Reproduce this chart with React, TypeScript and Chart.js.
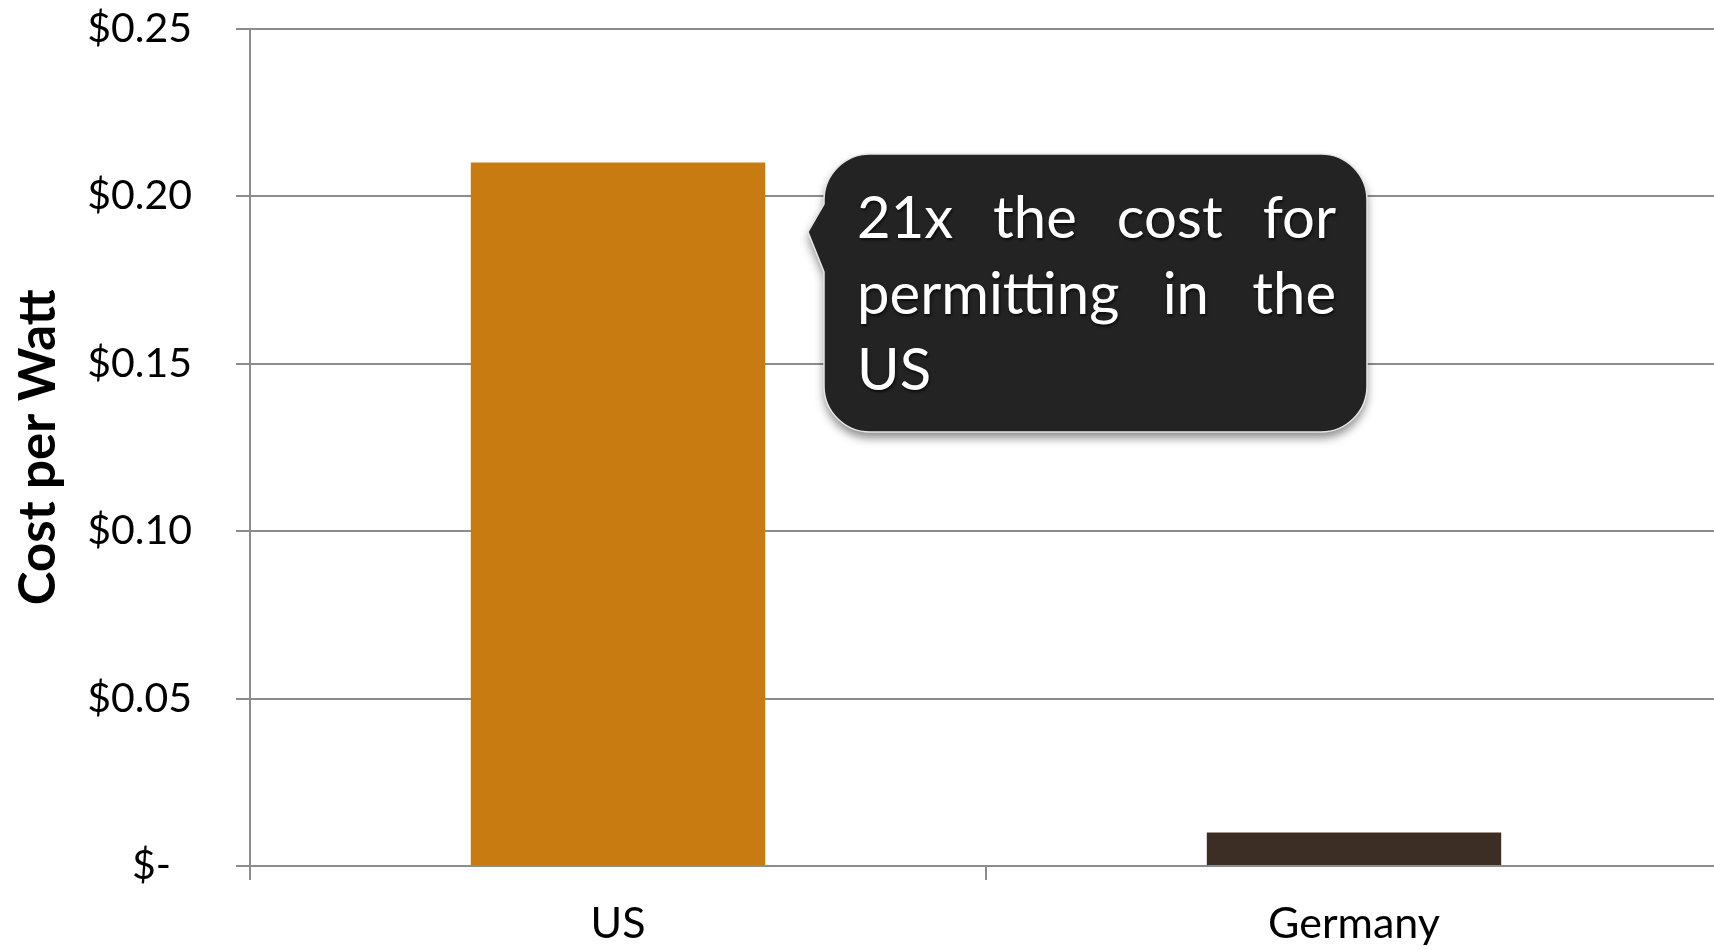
import React, { useEffect, useRef } from "react";
import { Chart, registerables } from "chart.js";

Chart.register(...registerables);

const categories = ["US", "Germany"];
const costPerWatt = [0.21, 0.01];
const barColors = ["#C77B11", "#3D2E25"];
const yTicks = [0, 0.05, 0.1, 0.15, 0.2, 0.25];
const yAxisTitle = "Cost per Watt";
const calloutLines = [
  ["21x", "the", "cost", "for"],
  ["permitting", "in", "the"],
  ["US"],
];

const FONT = "Lato, 'Open Sans', sans-serif";
const SHIFT = 40;

const calloutPlugin = {
  id: "callout",
  afterDraw(chart: any) {
    const ctx = chart.ctx as CanvasRenderingContext2D;
    const L = 824, T = 154 + SHIFT, R = 1367, B = 432 + SHIFT, r = 46;
    const tipX = 808, tipY = 232 + SHIFT, joinTop = T + r + 4, joinBot = 272 + SHIFT;
    ctx.save();
    ctx.beginPath();
    ctx.moveTo(L + r, T);
    ctx.lineTo(R - r, T);
    ctx.arcTo(R, T, R, T + r, r);
    ctx.lineTo(R, B - r);
    ctx.arcTo(R, B, R - r, B, r);
    ctx.lineTo(L + r, B);
    ctx.arcTo(L, B, L, B - r, r);
    ctx.lineTo(L, joinBot);
    ctx.lineTo(tipX, tipY);
    ctx.lineTo(L, joinTop);
    ctx.arcTo(L, T, L + r, T, r);
    ctx.closePath();
    ctx.shadowColor = "rgba(0,0,0,0.45)";
    ctx.shadowBlur = 10;
    ctx.shadowOffsetY = 6;
    ctx.fillStyle = "#232323";
    ctx.fill();
    ctx.shadowColor = "transparent";
    ctx.lineWidth = 1.5;
    ctx.strokeStyle = "#e6e6e6";
    ctx.stroke();

    ctx.font = `58px ${FONT}`;
    ctx.fillStyle = "#ffffff";
    ctx.textBaseline = "alphabetic";
    ctx.textAlign = "left";
    ctx.shadowColor = "rgba(0,0,0,0.7)";
    ctx.shadowBlur = 3;
    ctx.shadowOffsetX = 1;
    ctx.shadowOffsetY = 2;
    const textL = 857, textR = 1336;
    const baselines = [238 + SHIFT, 314 + SHIFT, 390 + SHIFT];
    calloutLines.forEach((words, i) => {
      const y = baselines[i];
      const isLast = i === calloutLines.length - 1;
      if (isLast || words.length === 1) {
        ctx.fillText(words.join(" "), textL, y);
        return;
      }
      const widths = words.map((w) => ctx.measureText(w).width);
      const total = widths.reduce((a, b) => a + b, 0);
      const gap = (textR - textL - total) / (words.length - 1);
      let x = textL;
      words.forEach((w, j) => {
        ctx.fillText(w, x, y);
        x += widths[j] + gap;
      });
    });
    ctx.restore();
  },
};

export default function App() {
  const canvasRef = useRef<HTMLCanvasElement | null>(null);

  useEffect(() => {
    if (!canvasRef.current) return;
    Chart.defaults.font.family = FONT;
    const chart = new Chart(canvasRef.current, {
      type: "bar",
      data: {
        labels: categories,
        datasets: [
          {
            data: costPerWatt,
            backgroundColor: barColors,
            borderWidth: 0,
            categoryPercentage: 1,
            barPercentage: 0.4,
          },
        ],
      },
      options: {
        responsive: false,
        animation: false,
        devicePixelRatio: 1,
        layout: { padding: { top: 28, right: 8, left: 0, bottom: 0 } },
        plugins: {
          legend: { display: false },
          tooltip: { enabled: false },
        },
        scales: {
          x: {
            grid: {
              display: true,
              drawOnChartArea: false,
              drawTicks: true,
              tickLength: 14,
              color: "#8c8c8c",
              lineWidth: 2,
              offset: true,
            },
            border: { display: true, color: "#8c8c8c", width: 2 },
            ticks: {
              color: "#000000",
              font: { size: 43, family: FONT },
              padding: 18,
            },
            afterFit(scale: any) {
              scale.height = 84;
            },
          },
          y: {
            min: 0,
            max: 0.25,
            afterBuildTicks(scale: any) {
              scale.ticks = yTicks.map((v) => ({ value: v }));
            },
            grid: {
              color: "#8c8c8c",
              lineWidth: 2,
              drawTicks: true,
              tickLength: 14,
            },
            border: { display: true, color: "#8c8c8c", width: 2 },
            ticks: {
              color: "#000000",
              font: { size: 41, family: FONT },
              padding: 44,
              callback: (v: any) =>
                Number(v) === 0 ? "$-  " : "$" + Number(v).toFixed(2),
            },
            title: {
              display: true,
              text: yAxisTitle,
              color: "#000000",
              font: { size: 51, weight: "bold", family: FONT },
              padding: { top: 8, bottom: 0 },
            },
            afterFit(scale: any) {
              scale.width = 250;
            },
          },
        },
      },
      plugins: [calloutPlugin],
    });
    return () => chart.destroy();
  }, []);

  return (
    <div
      style={{
        position: "fixed",
        left: 0,
        top: 0,
        width: 1714,
        height: 950,
        overflow: "hidden",
        background: "#ffffff",
      }}
    >
      <canvas
        ref={canvasRef}
        width={1730}
        height={950 + SHIFT}
        style={{
          position: "absolute",
          left: 0,
          top: -SHIFT,
          width: 1730,
          height: 950 + SHIFT,
          display: "block",
        }}
      />
    </div>
  );
}
